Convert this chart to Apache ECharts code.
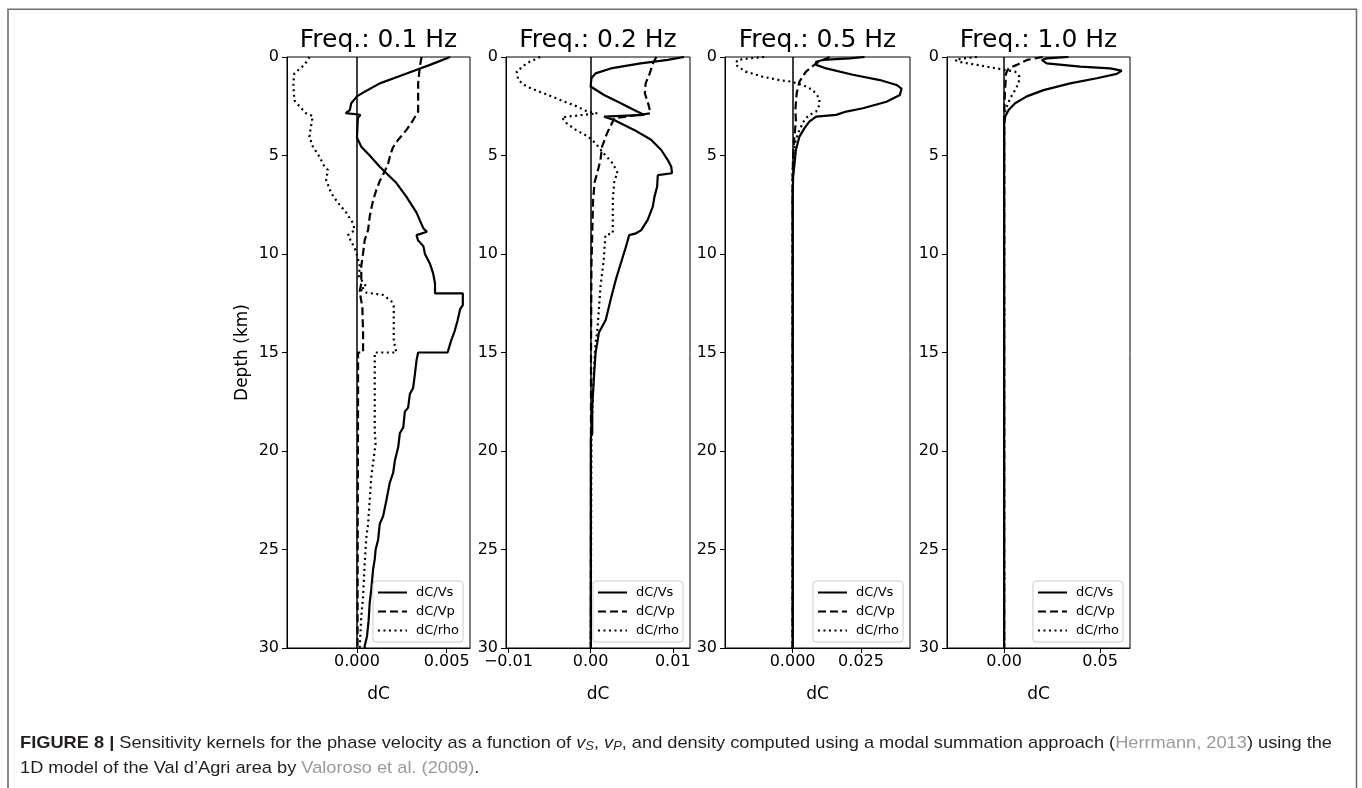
<!DOCTYPE html>
<html><head><meta charset="utf-8">
<script src="https://cdn.jsdelivr.net/npm/echarts@6/dist/echarts.min.js"></script>
<style>html,body{margin:0;padding:0;background:#fff}#c{width:1362px;height:788px}</style>
</head><body><div id="c"></div>
<script>
// ---------- data ----------
const freqTitles = ['Freq.: 0.1 Hz', 'Freq.: 0.2 Hz', 'Freq.: 0.5 Hz', 'Freq.: 1.0 Hz'];
const seriesNames = ['dC/Vs', 'dC/Vp', 'dC/rho'];
const xTicks = [[0, 0.005], [-0.01, 0, 0.01], [0, 0.025], [0, 0.05]];
const xTickLabels = [['0.000', '0.005'], ['\u22120.01', '0.00', '0.01'], ['0.000', '0.025'], ['0.00', '0.05']];
const xRanges = [[-0.0039, 0.0063], [-0.0103, 0.0121], [-0.0247, 0.0429], [-0.0298, 0.0656]];
const depthRange = [0, 30];
const depthStep = 5;

// each point: [dC, depth (km)]
const vs01 = [[0.00519,0],[0.00407,0.4],[0.00258,0.9],[0.00127,1.34],[0.00043,1.76],[0.0,2.0],[-0.00032,2.35],[-0.0004,2.7],[-0.00063,2.85],[0.00019,2.93],[0.00005,3.1],[0.0,4.1],[0.00024,4.55],[0.00071,5.0],[0.00127,5.57],[0.00164,5.9],[0.0022,6.4],[0.00276,7.1],[0.00332,7.9],[0.0037,8.7],[0.0039,8.87],[0.00332,9.04],[0.0034,9.3],[0.0037,9.6],[0.00379,10.0],[0.00407,10.5],[0.00425,11.0],[0.00435,11.5],[0.00435,12.0],[0.0059,12.0],[0.0059,12.6],[0.00575,12.8],[0.0056,13.4],[0.00545,13.9],[0.00525,14.4],[0.00505,15.0],[0.00341,15.0],[0.00332,15.4],[0.00323,16.1],[0.00313,16.8],[0.00295,17.1],[0.00285,17.8],[0.00267,18.0],[0.00258,18.8],[0.00239,19.1],[0.0023,19.8],[0.00211,20.5],[0.00202,21.1],[0.00183,21.6],[0.00164,22.5],[0.00146,23.3],[0.00127,23.7],[0.00118,24.5],[0.00104,25.0],[0.00099,25.5],[0.0009,26.0],[0.0008,27.0],[0.00071,27.7],[0.00065,28.6],[0.00056,29.4],[0.00043,29.9],[0.00043,30]];
const vp01 = [[0.0036,0],[0.0035,0.5],[0.00341,1.34],[0.00341,2.77],[0.0035,2.86],[0.00313,3.2],[0.00276,3.7],[0.0023,4.2],[0.002,4.6],[0.00183,5.06],[0.00174,5.4],[0.00155,5.8],[0.00127,6.3],[0.00108,6.75],[0.0009,7.26],[0.00071,8.1],[0.00062,8.78],[0.00043,9.3],[0.00034,9.97],[0.00024,10.6],[0.00024,11.5],[0.00015,11.9],[0.0003,12.7],[0.00034,14.0],[0.00034,15.0],[0.00006,15.0],[0.00006,17.2],[0.00004,25],[0.00003,30]];
const rho01 = [[-0.00265,0],[-0.00293,0.4],[-0.00349,0.83],[-0.00355,1.34],[-0.00349,2.2],[-0.00321,2.5],[-0.00284,2.86],[-0.00246,3.0],[-0.00256,3.5],[-0.00265,4.05],[-0.00246,4.55],[-0.00209,5.06],[-0.00181,5.57],[-0.00162,5.74],[-0.00172,6.24],[-0.00144,6.9],[-0.00106,7.4],[-0.0006,7.9],[-0.00022,8.44],[-0.00013,8.78],[-0.0005,9.04],[-0.00032,9.37],[-0.00013,9.7],[0,10.05],[0.00015,10.6],[0.00011,11.15],[0.00052,11.66],[0.00015,11.8],[0.00052,11.96],[0.00146,12.08],[0.00192,12.4],[0.00205,12.67],[0.00205,14.4],[0.0022,15.0],[0.00099,15.0],[0.00099,19.0],[0.00104,19.6],[0.0008,21.3],[0.00062,23.7],[0.00052,24.4],[0.00043,25.7],[0.00034,27.4],[0.00024,28.4],[0.00015,30]];

const vs02 = [[0.01137,0],[0.0094,0.15],[0.0061,0.32],[0.00245,0.58],[0.0006,0.83],[0.0001,1.08],[0,1.5],[0.00164,1.93],[0.00368,2.35],[0.0053,2.69],[0.00654,2.94],[0.00164,3.03],[0.00286,3.2],[0.0053,3.7],[0.00736,4.2],[0.0086,4.72],[0.0094,5.23],[0.00982,5.57],[0.0099,5.9],[0.00982,6.0],[0.00818,6.0],[0.0081,6.58],[0.00777,7.1],[0.00757,7.6],[0.00695,8.27],[0.00614,8.8],[0.00552,8.95],[0.0047,9.04],[0.0043,9.63],[0.00368,10.47],[0.00307,11.3],[0.00245,12.3],[0.00184,13.35],[0.001,14.0],[0.00082,14.5],[0.00061,15.0],[0.00041,16.2],[0.0002,17.75],[0.0002,19.1],[0.00003,19.3],[0.00002,30]];
const vp02 = [[0.008,0],[0.0076,0.32],[0.0072,0.83],[0.0067,1.34],[0.0066,1.84],[0.007,2.35],[0.0073,2.86],[0.0029,3.1],[0.002,3.87],[0.0014,4.55],[0.0012,5.23],[0.0008,5.9],[0.0005,6.33],[0.0003,7.26],[0.0002,8.95],[0.0001,10.6],[0.00005,15],[0.00003,30]];
const rho02 = [[-0.00614,0],[-0.0078,0.32],[-0.009,0.74],[-0.0088,1.17],[-0.0078,1.5],[-0.0057,1.84],[-0.0037,2.18],[-0.0016,2.52],[-0.0004,2.77],[0.0008,2.86],[-0.0035,3.06],[-0.0029,3.37],[-0.0018,3.7],[-0.0003,4.04],[0.0006,4.38],[0.0016,4.9],[0.0027,5.4],[0.0033,5.9],[0.0029,6.24],[0.0027,7.26],[0.0027,8.95],[0.0018,9.04],[0.0016,10.3],[0.0012,11.66],[0.001,12.84],[0.0008,14.0],[0.0006,14.5],[0.0004,15.9],[0.0002,18.1],[0.0001,19.3],[0.00002,30]];

const vs05 = [[0.0263,0],[0.0208,0.07],[0.011,0.15],[0.0086,0.24],[0.0086,0.4],[0.0123,0.58],[0.022,0.9],[0.0319,1.17],[0.038,1.42],[0.0398,1.6],[0.0392,1.93],[0.0343,2.27],[0.0257,2.6],[0.0196,2.77],[0.0159,2.94],[0.0086,3.03],[0.0061,3.28],[0.0043,3.62],[0.0025,4.04],[0.0012,4.72],[0.0006,5.57],[0.0002,6.07],[0,7],[0,30]];
const vp05 = [[0.0135,0],[0.0086,0.32],[0.0049,0.74],[0.0025,1.25],[0.0015,1.84],[0.001,2.69],[0.0012,3.2],[0.0006,4.2],[0.0002,5.06],[0,6],[0,30]];
const rho05 = [[-0.0104,0],[-0.016,0.07],[-0.0202,0.15],[-0.0208,0.4],[-0.0172,0.74],[-0.011,1.0],[-0.0049,1.17],[-0.0006,1.25],[0.0037,1.42],[0.0074,1.68],[0.0098,2.1],[0.0098,2.44],[0.0086,2.77],[0.0061,2.94],[0.0043,3.2],[0.0025,3.7],[0.0012,4.2],[0.0006,4.72],[0.0002,5.2],[0,6],[0,30]];

const vs10 = [[0.0335,0],[0.0222,0.07],[0.0196,0.15],[0.0188,0.24],[0.0222,0.32],[0.0396,0.49],[0.0552,0.58],[0.0613,0.69],[0.0587,0.86],[0.0483,1.08],[0.0344,1.34],[0.0205,1.68],[0.0118,2.0],[0.0057,2.35],[0.0023,2.69],[0.0005,3.03],[0,3.4],[0,30]];
const vp10 = [[0.02,0],[0.012,0.15],[0.0066,0.4],[0.0023,0.58],[0.001,0.83],[0.0007,1.3],[0.0003,2.0],[0,3],[0,30]];
const rho10 = [[-0.0142,0],[-0.0212,0.07],[-0.0255,0.15],[-0.0238,0.24],[-0.0142,0.4],[-0.0038,0.58],[0.0005,0.66],[0.0057,0.74],[0.008,1.0],[0.0075,1.34],[0.0057,1.68],[0.0031,2.1],[0.0017,2.44],[0.0007,2.69],[0,3.0],[0,30]];

const panelData = [[vs01, vp01, rho01], [vs02, vp02, rho02], [vs05, vp05, rho05], [vs10, vp10, rho10]];

// caption text
const capLine1 = ['FIGURE 8 |', ' Sensitivity kernels for the phase velocity as a function of ', 'v', 'S', ', ', 'v', 'P', ', and density computed using a modal summation approach (', 'Herrmann, 2013', ') using the'];
const capLine2 = ['1D model of the Val d\u2019Agri area by ', 'Valoroso et al. (2009)', '.'];

// ---------- layout / style ----------
const FONT = "'DejaVu Sans', sans-serif";
const CAPFONT = "'Liberation Sans', Arial, sans-serif";
const grids = [
  {left: 287, top: 57, width: 183, height: 591},
  {left: 506, top: 57, width: 184, height: 591},
  {left: 725, top: 57, width: 185, height: 591},
  {left: 947, top: 57, width: 183, height: 591}
];
const lineTypes = ['solid', [8, 4], [2, 3.5]];

const chart = echarts.init(document.getElementById('c'), null, {renderer: 'canvas'});

const xAxes = [], yAxes = [], series = [], legends = [], graphics = [];
grids.forEach((g, i) => {
  xAxes.push({
    gridIndex: i, type: 'value', min: xRanges[i][0], max: xRanges[i][1],
    axisLine: {show: true, onZero: false, lineStyle: {color: '#000', width: 1}},
    axisTick: {show: true, length: 5, customValues: xTicks[i], lineStyle: {color: '#000', width: 1}},
    axisLabel: {
      customValues: xTicks[i], fontSize: 16, color: '#000', fontFamily: FONT, margin: 6,
      formatter: (v) => { const j = xTicks[i].findIndex(t => Math.abs(t - v) < 1e-9); return j >= 0 ? xTickLabels[i][j] : ''; }
    },
    splitLine: {show: false},
    name: 'dC', nameLocation: 'middle', nameGap: 38,
    nameTextStyle: {fontSize: 17, color: '#000', fontFamily: FONT}
  });
  yAxes.push({
    gridIndex: i, type: 'value', inverse: true, min: depthRange[0], max: depthRange[1], interval: depthStep,
    axisLine: {show: true, onZero: false, lineStyle: {color: '#000', width: 1}},
    axisTick: {show: true, length: 5, lineStyle: {color: '#000', width: 1}},
    axisLabel: {fontSize: 16, color: '#000', fontFamily: FONT, margin: 8},
    splitLine: {show: false},
    name: i === 0 ? 'Depth (km)' : '', nameLocation: 'middle', nameGap: 36, nameRotate: 90,
    nameTextStyle: {fontSize: 17, color: '#000', fontFamily: FONT}
  });
  panelData[i].forEach((arr, k) => {
    const s = {
      type: 'line', name: seriesNames[k], xAxisIndex: i, yAxisIndex: i, data: arr,
      symbol: 'none', animation: false, z: 3,
      lineStyle: {color: '#000', width: 2.2, type: lineTypes[k]},
      itemStyle: {color: '#000'}
    };
    if (k === 0) {
      s.markLine = {
        silent: true, symbol: ['none', 'none'], animation: false,
        label: {show: false},
        lineStyle: {color: '#000', width: 1.5, type: 'solid'},
        data: [{xAxis: 0}]
      };
    }
    series.push(s);
  });
  const rightEdge = g.left + g.width - 7;
  legends.push({
    data: seriesNames, orient: 'vertical', right: 1362 - rightEdge, bottom: 146,
    itemWidth: 29, itemHeight: 13, itemGap: 6, padding: [5, 4, 5, 4],
    backgroundColor: 'rgba(255,255,255,0.8)', borderColor: '#cccccc', borderWidth: 1, borderRadius: 3,
    selectedMode: false,
    itemStyle: {opacity: 0, borderWidth: 0},
    lineStyle: {width: 2},
    textStyle: {fontSize: 13, color: '#000', fontFamily: FONT, padding: [0, 0, 0, 4]}
  });
  graphics.push({
    type: 'text', x: g.left + g.width / 2, y: 40, silent: true,
    style: {text: freqTitles[i], fontSize: 25, fontFamily: FONT, fill: '#000', align: 'center', verticalAlign: 'middle'}
  });
});

// caption measurement to fit reference width
const ctx = document.createElement('canvas').getContext('2d');
function tw(t, font) { ctx.font = font; return ctx.measureText(t).width; }
const CS = 17;
const fN = `${CS}px ${CAPFONT}`, fB = `bold ${CS}px ${CAPFONT}`, fI = `italic ${CS}px ${CAPFONT}`, fS = `italic 12px ${CAPFONT}`;
const w1 = tw(capLine1[0], fB) + tw(capLine1[1], fN) + tw('v', fI) + tw('S', fS) + tw(capLine1[4], fN) + tw('v', fI) + tw('P', fS) + tw(capLine1[7], fN) + tw(capLine1[8], fN) + tw(capLine1[9], fN);
const capScale = 1312 / w1;
const rich = {
  b: {fontWeight: 'bold', fontSize: CS, fontFamily: CAPFONT, fill: '#231f20'},
  i: {fontStyle: 'italic', fontSize: CS, fontFamily: CAPFONT, fill: '#231f20'},
  s: {fontStyle: 'italic', fontSize: 12, fontFamily: CAPFONT, fill: '#231f20', padding: [7, 0, 0, 0]},
  g: {fontSize: CS, fontFamily: CAPFONT, fill: '#9a9a9a'}
};
const t1 = `{b|${capLine1[0]}}${capLine1[1]}{i|v}{s|S}${capLine1[4]}{i|v}{s|P}${capLine1[7]}{g|${capLine1[8]}}${capLine1[9]}`;
const t2 = `${capLine2[0]}{g|${capLine2[1]}}${capLine2[2]}`;
graphics.push({type: 'text', x: 20, y: 743, scaleX: capScale, silent: true,
  style: {text: t1, rich, fontSize: CS, fontFamily: CAPFONT, fill: '#231f20', align: 'left', verticalAlign: 'middle'}});
graphics.push({type: 'text', x: 20, y: 768, scaleX: capScale, silent: true,
  style: {text: t2, rich, fontSize: CS, fontFamily: CAPFONT, fill: '#231f20', align: 'left', verticalAlign: 'middle'}});
graphics.push({type: 'rect', silent: true, z: -1,
  shape: {x: 8, y: 9.3, width: 1348.5, height: 800},
  style: {fill: 'none', stroke: '#6e6e6e', lineWidth: 1.6}});

chart.setOption({
  animation: false,
  backgroundColor: '#fff',
  grid: grids.map(g => Object.assign({show: true, borderColor: '#000', borderWidth: 1, backgroundColor: '#fff', containLabel: false}, g)),
  xAxis: xAxes,
  yAxis: yAxes,
  legend: legends,
  series: series,
  graphic: {elements: graphics}
});
</script></body></html>
